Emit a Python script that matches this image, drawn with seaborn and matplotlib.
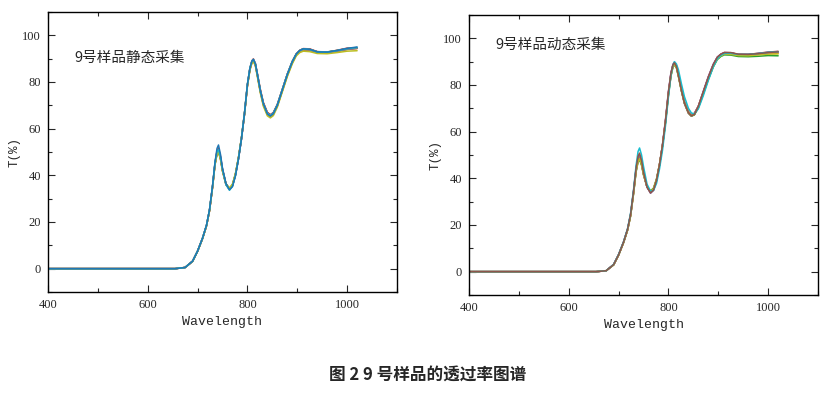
import pandas as pd
import seaborn as sns
import matplotlib.pyplot as plt
from matplotlib.ticker import MultipleLocator

# wavelength grid (nm) shared by every measured curve
wavelength = [400, 655, 675, 690, 700, 710, 718, 724, 730, 735,
              739, 742, 746, 750, 757, 764, 770, 776, 782, 788,
              794, 800, 805, 809, 812, 816, 820, 826, 832, 840,
              846, 852, 860, 870, 880, 890, 898, 905, 912, 925,
              940, 960, 980, 1000, 1020]

# static acquisition, 10 repeated scans (T %)
static_T = [
    [0, 0, 0.5, 3.2, 7.5, 13.0, 18.6, 25.2, 35.3, 45.5, 51.5, 53.0, 49.0, 43.0, 36.5, 33.8, 35.2, 39.8, 46.9, 55.5, 66.2, 78.8, 85.7, 88.9, 89.7, 87.7, 83.2, 76.2, 70.7, 66.3, 65.4, 66.4, 70.0, 76.6, 83.1, 88.6, 91.9, 93.5, 94.2, 94.0, 92.9, 92.8, 93.5, 94.4, 95.0],
    [0, 0, 0.5, 3.1, 7.4, 12.9, 18.4, 24.8, 34.7, 44.6, 49.2, 50.2, 47.0, 41.8, 36.0, 34.2, 35.7, 40.3, 47.3, 55.8, 66.0, 78.3, 85.2, 88.3, 89.1, 87.2, 82.7, 75.7, 70.2, 66.0, 65.1, 66.1, 69.7, 76.1, 82.7, 88.2, 91.5, 93.0, 93.6, 93.5, 92.6, 92.5, 93.1, 93.9, 94.3],
    [0, 0, 0.5, 3.2, 7.5, 13.0, 18.5, 25.0, 35.0, 44.8, 49.6, 50.6, 47.4, 42.4, 36.4, 34.4, 36.0, 40.6, 47.6, 56.0, 66.4, 78.9, 85.8, 88.6, 89.3, 87.7, 83.4, 76.5, 71.0, 66.8, 65.8, 66.8, 70.3, 76.8, 83.3, 88.8, 92.0, 93.5, 94.2, 94.0, 93.0, 92.9, 93.5, 94.3, 94.7],
    [0, 0, 0.5, 3.2, 7.5, 13.1, 18.6, 25.1, 35.2, 45.2, 50.5, 51.6, 48.2, 42.8, 36.3, 34.0, 35.6, 40.2, 47.2, 55.7, 66.2, 78.8, 85.9, 89.1, 89.9, 88.0, 83.6, 76.8, 71.2, 67.0, 66.0, 66.9, 70.4, 76.9, 83.4, 88.9, 92.1, 93.6, 94.3, 94.2, 93.0, 92.8, 93.6, 94.5, 94.6],
    [0, 0, 0.5, 3.2, 7.5, 13.0, 18.5, 25.0, 35.0, 45.0, 49.8, 50.8, 47.6, 42.3, 36.0, 33.9, 35.5, 40.1, 47.0, 55.5, 66.0, 78.6, 85.6, 88.7, 89.4, 87.5, 83.1, 76.2, 70.6, 66.5, 65.6, 66.6, 70.1, 76.6, 83.2, 88.6, 91.9, 93.4, 94.0, 93.8, 92.7, 92.6, 93.2, 94.0, 94.4],
    [0, 0, 0.5, 3.1, 7.4, 12.9, 18.4, 24.9, 34.8, 44.7, 49.4, 50.4, 47.2, 42.1, 36.2, 34.1, 35.7, 40.3, 47.1, 55.6, 65.9, 78.5, 85.4, 88.5, 89.2, 87.3, 82.9, 75.9, 70.4, 66.3, 65.4, 66.4, 69.9, 76.4, 83.0, 88.4, 91.7, 93.2, 93.9, 93.7, 92.9, 92.8, 93.3, 94.1, 94.6],
    [0, 0, 0.5, 3.2, 7.5, 13.0, 18.5, 25.0, 35.0, 45.1, 50.0, 51.0, 47.8, 42.5, 36.2, 34.0, 35.6, 40.2, 47.1, 55.6, 66.1, 78.7, 85.7, 88.8, 89.5, 87.6, 83.0, 76.0, 70.5, 66.4, 65.5, 66.5, 70.0, 76.5, 83.1, 88.5, 91.8, 93.3, 94.0, 93.9, 92.8, 92.7, 93.3, 94.2, 94.7],
    [0, 0, 0.5, 3.2, 7.5, 13.0, 18.5, 25.0, 35.0, 45.0, 49.6, 50.5, 47.3, 42.3, 36.1, 34.0, 35.6, 40.2, 47.0, 55.5, 66.0, 78.6, 85.6, 88.6, 89.3, 87.4, 82.9, 75.9, 70.3, 66.2, 65.3, 66.3, 69.9, 76.3, 82.9, 88.4, 91.7, 93.2, 93.9, 93.8, 92.7, 92.6, 93.2, 94.0, 94.5],
    [0, 0, 0.5, 3.1, 7.4, 12.8, 18.3, 24.7, 34.6, 44.4, 49.0, 50.0, 46.8, 41.8, 36.2, 34.6, 36.2, 40.8, 47.5, 55.8, 65.8, 78.1, 85.0, 88.0, 88.8, 86.8, 82.2, 75.2, 69.6, 65.5, 64.6, 65.6, 69.2, 75.8, 82.3, 87.8, 91.2, 92.6, 93.2, 93.0, 92.2, 92.1, 92.6, 93.2, 93.4],
    [0, 0, 0.5, 3.2, 7.5, 13.1, 18.7, 25.3, 35.4, 45.6, 50.2, 51.0, 47.9, 42.6, 36.0, 33.6, 35.2, 39.8, 47.0, 55.7, 66.4, 79.1, 86.0, 89.0, 89.7, 87.8, 83.3, 76.3, 70.8, 66.6, 65.7, 66.7, 70.2, 76.7, 83.3, 88.8, 92.0, 93.5, 94.2, 94.0, 92.9, 92.8, 93.5, 94.3, 94.8],
]

# dynamic acquisition, 10 repeated scans (T %)
dynamic_T = [
    [0, 0, 0.4, 3.0, 7.2, 12.6, 18.0, 24.2, 34.0, 43.5, 48.0, 49.2, 46.5, 41.8, 36.2, 34.0, 35.2, 39.2, 45.8, 54.0, 64.3, 76.5, 84.5, 88.3, 89.4, 88.0, 84.3, 78.0, 72.6, 68.3, 67.0, 67.6, 70.8, 77.0, 83.2, 88.6, 91.7, 93.0, 93.7, 93.7, 93.0, 93.0, 93.3, 93.8, 94.0],
    [0, 0, 0.4, 2.9, 7.1, 12.5, 17.8, 23.9, 33.6, 43.0, 47.4, 48.5, 46.0, 41.6, 36.4, 34.3, 35.5, 39.4, 45.9, 54.0, 64.1, 76.2, 84.2, 88.0, 89.0, 87.6, 83.9, 77.6, 72.2, 68.0, 66.7, 67.3, 70.5, 76.6, 82.8, 88.2, 91.3, 92.6, 93.3, 93.3, 92.7, 92.7, 93.1, 93.5, 93.6],
    [0, 0, 0.4, 2.9, 7.1, 12.5, 17.8, 23.8, 33.4, 42.7, 47.0, 48.0, 45.6, 41.4, 36.3, 34.6, 35.8, 39.7, 46.0, 53.8, 63.8, 75.8, 83.8, 87.6, 88.7, 87.3, 83.6, 77.4, 72.1, 67.9, 66.6, 67.2, 70.3, 76.3, 82.4, 87.8, 90.9, 92.2, 92.9, 92.8, 92.2, 92.1, 92.3, 92.6, 92.5],
    [0, 0, 0.4, 3.0, 7.3, 12.7, 18.1, 24.4, 34.3, 43.9, 48.5, 49.6, 46.9, 42.1, 36.3, 33.9, 35.0, 39.0, 45.6, 54.0, 64.5, 76.9, 85.0, 88.7, 89.7, 88.3, 84.6, 78.4, 73.0, 68.7, 67.3, 67.9, 71.0, 77.2, 83.4, 88.8, 91.9, 93.2, 93.9, 93.8, 93.1, 93.1, 93.6, 94.1, 94.4],
    [0, 0, 0.4, 3.1, 7.3, 12.8, 18.3, 24.6, 34.6, 44.3, 49.0, 50.0, 47.2, 42.3, 36.2, 33.6, 34.8, 38.9, 45.8, 54.5, 65.2, 77.5, 85.4, 88.8, 89.8, 88.1, 84.0, 77.5, 72.0, 67.9, 66.7, 67.4, 70.9, 77.4, 83.7, 89.0, 92.0, 93.2, 93.9, 93.8, 93.1, 93.1, 93.5, 94.0, 94.3],
    [0, 0, 0.4, 3.0, 7.2, 12.7, 18.2, 24.5, 34.5, 44.2, 49.4, 50.8, 47.6, 42.5, 36.3, 33.7, 35.0, 39.1, 45.8, 54.2, 64.6, 77.0, 85.0, 88.6, 89.5, 87.9, 84.0, 77.7, 72.3, 68.1, 66.8, 67.4, 70.9, 77.2, 83.4, 88.8, 91.9, 93.2, 93.9, 93.9, 93.2, 93.1, 93.4, 93.9, 94.2],
    [0, 0, 0.4, 3.0, 7.2, 12.6, 18.0, 24.1, 33.8, 43.3, 47.7, 48.8, 46.3, 41.7, 36.5, 34.1, 35.3, 39.3, 45.9, 54.1, 64.3, 76.4, 84.4, 88.1, 89.2, 87.8, 84.2, 78.0, 72.7, 68.4, 67.1, 67.7, 70.7, 76.8, 83.0, 88.4, 91.5, 92.8, 93.5, 93.5, 92.9, 92.9, 93.3, 93.7, 94.1],
    [0, 0, 0.4, 3.0, 7.2, 12.6, 18.0, 24.2, 34.0, 43.5, 48.0, 49.2, 46.6, 41.9, 36.4, 34.0, 35.2, 39.2, 45.8, 54.0, 64.4, 76.6, 84.7, 88.4, 89.3, 87.9, 84.2, 78.0, 72.6, 68.3, 67.0, 67.6, 70.8, 76.9, 83.1, 88.5, 91.6, 92.9, 93.7, 93.7, 93.0, 93.0, 93.4, 93.9, 94.2],
    [0, 0, 0.4, 2.9, 7.1, 12.5, 17.9, 24.0, 33.7, 43.1, 47.4, 48.4, 46.1, 41.7, 36.6, 34.4, 35.6, 39.5, 45.9, 53.9, 64.0, 76.0, 84.1, 87.9, 88.9, 87.5, 83.8, 77.6, 72.3, 68.1, 66.8, 67.4, 70.4, 76.4, 82.6, 88.0, 91.1, 92.4, 93.2, 93.1, 92.6, 92.5, 92.9, 93.2, 93.3],
    [0, 0, 0.4, 3.1, 7.4, 12.9, 18.5, 25.0, 35.2, 45.5, 51.5, 53.0, 50.0, 45.0, 37.5, 34.5, 34.8, 37.8, 44.0, 52.0, 62.5, 75.0, 84.0, 88.6, 90.0, 89.0, 86.5, 80.5, 75.0, 70.0, 68.0, 67.6, 69.8, 75.5, 82.0, 87.8, 91.2, 92.7, 93.5, 93.6, 93.1, 93.1, 93.5, 94.0, 94.3],
]

x_ticks = [400, 600, 800, 1000]
y_ticks = [0, 20, 40, 60, 80, 100]
panel_titles = ["9号样品静态采集", "9号样品动态采集"]
caption = "图 2 9 号样品的透过率图谱"

# drawing order per panel (last one ends up on top)
static_order = [1, 2, 3, 4, 5, 6, 7, 8, 9, 0]
dynamic_order = [0, 1, 2, 3, 4, 6, 7, 8, 9, 5]

for c in static_T + dynamic_T:
    assert len(c) == len(wavelength)


def to_long(curves):
    rows = []
    for i, curve in enumerate(curves):
        for w, t in zip(wavelength, curve):
            rows.append((i, w, t))
    return pd.DataFrame(rows, columns=["run", "wavelength", "T"])


sns.set_style("ticks")
plt.rcParams["font.family"] = ["Liberation Serif", "Noto Sans CJK SC"]

colors = sns.color_palette("tab10", 10)
pal = {i: colors[i] for i in range(10)}

fig = plt.figure(figsize=(8.3, 3.94), dpi=100)
ax1 = fig.add_axes([0.0578, 0.2589, 0.4205, 0.7107])
ax2 = fig.add_axes([0.5651, 0.2513, 0.4205, 0.7107])

for ax, curves, order, title, ty in [(ax1, static_T, static_order, panel_titles[0], 90.3),
                                     (ax2, dynamic_T, dynamic_order, panel_titles[1], 97.3)]:
    df = to_long(curves)
    sns.lineplot(data=df, x="wavelength", y="T", hue="run", hue_order=order,
                 palette=pal, linewidth=1.1, legend=False, ax=ax)
    ax.set_xlim(400, 1100)
    ax.set_ylim(-10, 110)
    ax.set_xticks(x_ticks)
    ax.set_yticks(y_ticks)
    ax.xaxis.set_minor_locator(MultipleLocator(100))
    ax.yaxis.set_minor_locator(MultipleLocator(10))
    ax.tick_params(which="both", direction="in", top=True, right=True,
                   labelsize=9, width=0.8)
    ax.tick_params(which="major", length=5, pad=5)
    ax.tick_params(which="minor", length=3)
    for s in ax.spines.values():
        s.set_linewidth(1.0)
        s.set_color("black")
    ax.set_xlabel("Wavelength", family=["Liberation Mono"], fontsize=9.5, labelpad=4)
    ax.set_ylabel("T(%)", family=["Liberation Mono"], fontsize=9, labelpad=1)
    ax.text(453, ty, title, family=["Noto Sans CJK SC"], fontsize=10.5,
            va="center", ha="left")

fig.text(0.515, 0.048, caption, family=["Noto Sans CJK SC"], fontweight="bold",
         fontsize=12, ha="center", va="center")

fig.savefig("out.png", dpi=100)
